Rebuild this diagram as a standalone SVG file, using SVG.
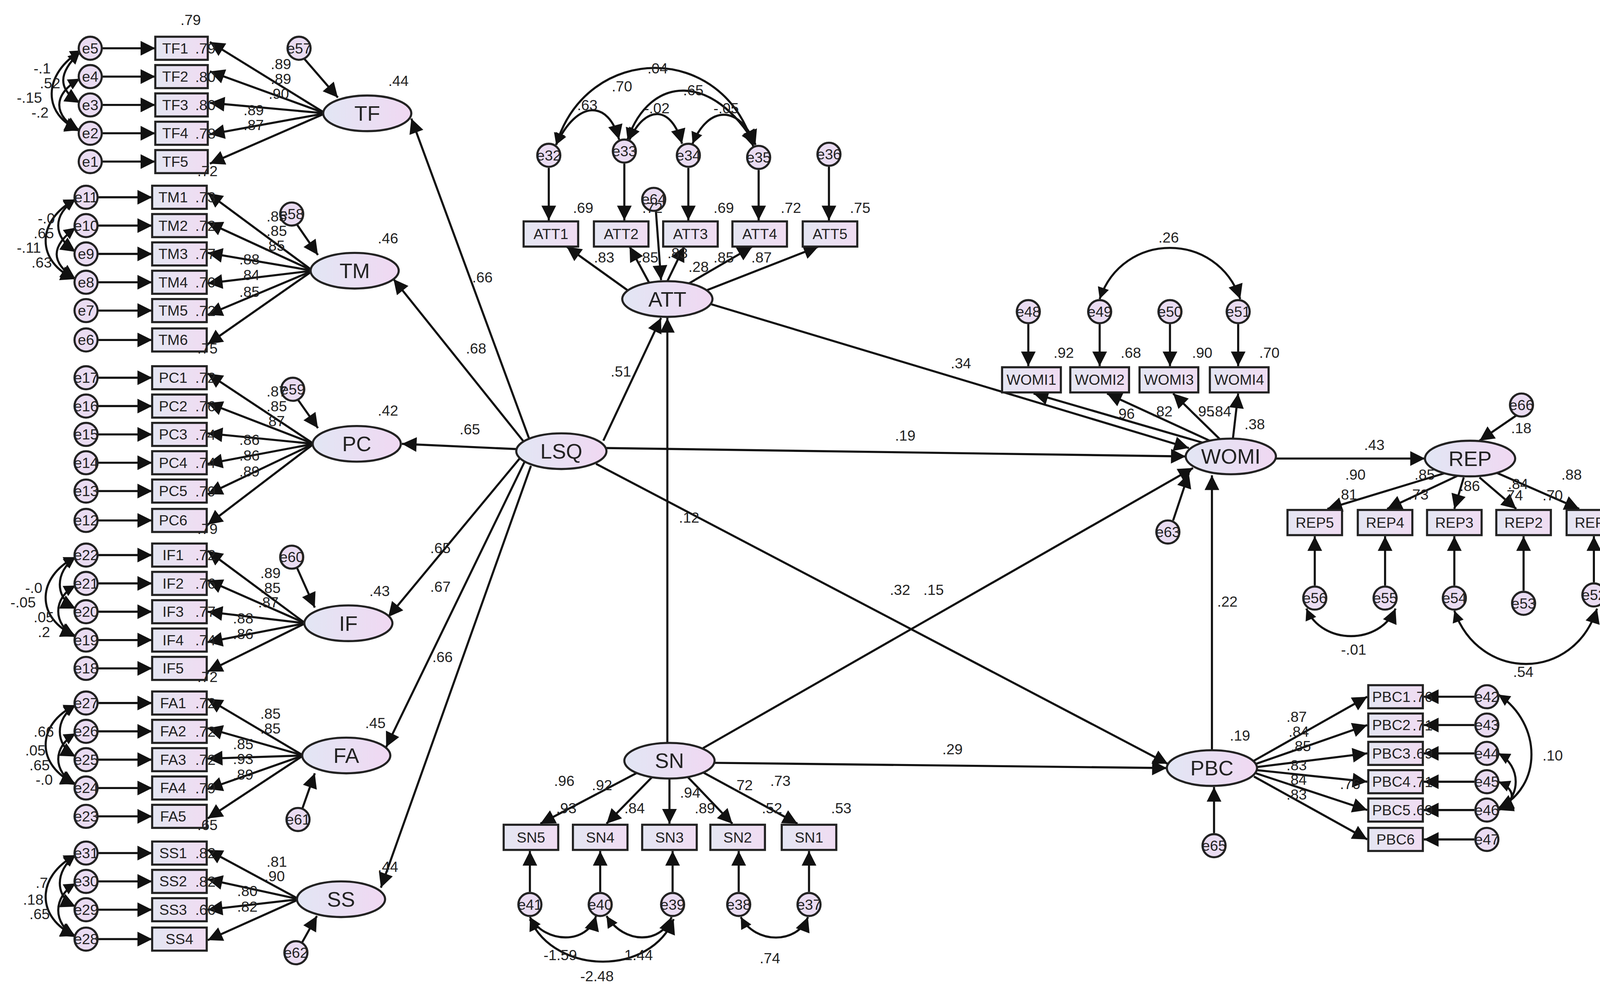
<svg xmlns="http://www.w3.org/2000/svg" width="4212" height="2537" viewBox="0 0 4212 2537">
<style>
text{font-family:"Liberation Sans",Arial,sans-serif;font-size:14px;fill:#222}
.n{text-anchor:middle;dominant-baseline:central}
.big{font-size:20px}
.box{fill:url(#gb);stroke:#222;stroke-width:2}
.ell{fill:url(#ge);stroke:#222;stroke-width:2}
.err{fill:#eadcf2;stroke:#222;stroke-width:2}
.c line,.c path{stroke:#111;stroke-width:2;fill:none;marker-end:url(#a)}
.c path.d{marker-start:url(#as)}
</style>
<defs>
<linearGradient id="gb" x1="0" x2="1"><stop offset="0" stop-color="#e4e6f2"/><stop offset="1" stop-color="#f0dcf2"/></linearGradient>
<linearGradient id="ge" x1="0" x2="1"><stop offset="0" stop-color="#e2e6f4"/><stop offset="1" stop-color="#f0d8f2"/></linearGradient>
<marker id="a" viewBox="0 0 10 10" refX="10" refY="5" markerWidth="18" markerHeight="14" markerUnits="userSpaceOnUse" orient="auto"><path d="M0,0L10,5L0,10z" fill="#111"/></marker>
<marker id="as" viewBox="0 0 10 10" refX="0" refY="5" markerWidth="14" markerHeight="11" markerUnits="userSpaceOnUse" orient="auto"><path d="M10,0L0,5L10,10z" fill="#111"/></marker>
</defs>
<rect width="4212" height="2537" fill="#fff"/>
<g transform="scale(2.6862)">
<g id="connectors" class="c">
<!-- left error -> item -->
<line x1="97" y1="46" x2="148" y2="46"/><line x1="97" y1="73" x2="148" y2="73"/><line x1="97" y1="100" x2="148" y2="100"/><line x1="97" y1="127" x2="148" y2="127"/><line x1="97" y1="154" x2="148" y2="154"/>
<line x1="93" y1="188" x2="145" y2="188"/><line x1="93" y1="215" x2="145" y2="215"/><line x1="93" y1="242" x2="145" y2="242"/><line x1="93" y1="269" x2="145" y2="269"/><line x1="93" y1="296" x2="145" y2="296"/><line x1="93" y1="324" x2="145" y2="324"/>
<line x1="93" y1="360" x2="145" y2="360"/><line x1="93" y1="387" x2="145" y2="387"/><line x1="93" y1="414" x2="145" y2="414"/><line x1="93" y1="441" x2="145" y2="441"/><line x1="93" y1="468" x2="145" y2="468"/><line x1="93" y1="496" x2="145" y2="496"/>
<line x1="93" y1="529" x2="145" y2="529"/><line x1="93" y1="556" x2="145" y2="556"/><line x1="93" y1="583" x2="145" y2="583"/><line x1="93" y1="610" x2="145" y2="610"/><line x1="93" y1="637" x2="145" y2="637"/>
<line x1="93" y1="670" x2="145" y2="670"/><line x1="93" y1="697" x2="145" y2="697"/><line x1="93" y1="724" x2="145" y2="724"/><line x1="93" y1="751" x2="145" y2="751"/><line x1="93" y1="778" x2="145" y2="778"/>
<line x1="93" y1="813" x2="145" y2="813"/><line x1="93" y1="840" x2="145" y2="840"/><line x1="93" y1="867" x2="145" y2="867"/><line x1="93" y1="895" x2="145" y2="895"/>
<!-- left covariance arcs -->
<path class="d" d="M78,48 C40,70 40,110 76,124"/><path class="d" d="M76,75 C50,90 50,110 76,125"/><path class="d" d="M76,50 C55,70 55,85 76,98"/>
<path class="d" d="M72,190 C34,210 34,250 72,266"/><path class="d" d="M72,217 C48,235 48,250 72,266"/><path class="d" d="M72,190 C50,205 50,225 72,240"/>
<path class="d" d="M72,531 C34,550 34,590 72,606"/><path class="d" d="M72,558 C50,570 50,595 72,607"/><path class="d" d="M72,531 C52,545 52,570 72,580"/>
<path class="d" d="M72,672 C34,690 34,730 72,747"/><path class="d" d="M72,699 C50,712 50,735 72,748"/><path class="d" d="M72,672 C52,685 52,710 72,721"/>
<path class="d" d="M72,815 C34,835 34,875 72,892"/><path class="d" d="M72,842 C50,855 50,880 72,893"/><path class="d" d="M72,815 C52,830 52,855 72,864"/>
<!-- loadings -->
<line x1="310" y1="108" x2="200" y2="40"/><line x1="310" y1="108" x2="200" y2="68"/><line x1="310" y1="108" x2="200" y2="98"/><line x1="310" y1="108" x2="200" y2="128"/><line x1="310" y1="108" x2="200" y2="156"/>
<line x1="298" y1="258" x2="198" y2="184"/><line x1="298" y1="258" x2="198" y2="212"/><line x1="298" y1="258" x2="198" y2="241"/><line x1="298" y1="258" x2="198" y2="270"/><line x1="298" y1="258" x2="198" y2="300"/><line x1="298" y1="258" x2="198" y2="328"/>
<line x1="299" y1="423" x2="198" y2="356"/><line x1="299" y1="423" x2="198" y2="384"/><line x1="299" y1="423" x2="198" y2="413"/><line x1="299" y1="423" x2="198" y2="442"/><line x1="299" y1="423" x2="198" y2="471"/><line x1="299" y1="423" x2="198" y2="500"/>
<line x1="291" y1="594" x2="198" y2="525"/><line x1="291" y1="594" x2="198" y2="553"/><line x1="291" y1="594" x2="198" y2="583"/><line x1="291" y1="594" x2="198" y2="612"/><line x1="291" y1="594" x2="198" y2="640"/>
<line x1="289" y1="720" x2="198" y2="666"/><line x1="289" y1="720" x2="198" y2="694"/><line x1="289" y1="720" x2="198" y2="723"/><line x1="289" y1="720" x2="198" y2="752"/><line x1="289" y1="720" x2="198" y2="780"/>
<line x1="285" y1="857" x2="198" y2="810"/><line x1="285" y1="857" x2="198" y2="838"/><line x1="285" y1="857" x2="198" y2="867"/><line x1="285" y1="857" x2="198" y2="896"/>
<!-- disturbances -->
<line x1="290" y1="56" x2="322" y2="93"/><line x1="283" y1="214" x2="303" y2="243"/><line x1="284" y1="381" x2="303" y2="408"/><line x1="283" y1="541" x2="300" y2="579"/><line x1="288" y1="771" x2="300" y2="737"/><line x1="288" y1="898" x2="302" y2="873"/>
<!-- structural -->
<line x1="505" y1="420" x2="392" y2="113"/><line x1="500" y1="422" x2="375" y2="266"/><line x1="493" y1="428" x2="383" y2="423"/><line x1="496" y1="436" x2="370" y2="588"/><line x1="500" y1="440" x2="368" y2="712"/><line x1="506" y1="444" x2="363" y2="846"/>
<line x1="575" y1="420" x2="630" y2="303"/><line x1="578" y1="427" x2="1130" y2="435"/><line x1="568" y1="442" x2="1113" y2="728"/>
<line x1="678" y1="290" x2="1133" y2="427"/><line x1="636" y1="708" x2="636" y2="303"/><line x1="670" y1="713" x2="1137" y2="446"/><line x1="681" y1="727" x2="1112" y2="732"/><line x1="1155" y1="715" x2="1155" y2="453"/><line x1="1216" y1="437" x2="1358" y2="437"/>
<!-- ATT -->
<line x1="600" y1="278" x2="540" y2="235"/><line x1="620" y1="272" x2="600" y2="235"/><line x1="636" y1="268" x2="652" y2="235"/><line x1="655" y1="271" x2="717" y2="235"/><line x1="670" y1="278" x2="780" y2="235"/>
<line x1="523" y1="160" x2="523" y2="210"/><line x1="595" y1="156" x2="595" y2="210"/><line x1="656" y1="160" x2="656" y2="210"/><line x1="723" y1="162" x2="723" y2="210"/><line x1="790" y1="159" x2="790" y2="210"/><line x1="625" y1="200" x2="630" y2="267"/>
<path class="d" d="M530,138 C560,40 690,40 718,140"/><path class="d" d="M530,138 C550,95 580,95 590,133"/><path class="d" d="M600,133 C615,100 640,100 650,137"/><path class="d" d="M660,137 C675,100 705,100 720,138"/><path class="d" d="M598,133 C620,70 680,70 720,138"/>
<!-- WOMI -->
<line x1="1150" y1="423" x2="985" y2="375"/><line x1="1155" y1="421" x2="1055" y2="375"/><line x1="1163" y1="419" x2="1118" y2="375"/><line x1="1175" y1="418" x2="1180" y2="375"/>
<line x1="980" y1="309" x2="980" y2="349"/><line x1="1048" y1="309" x2="1048" y2="349"/><line x1="1115" y1="309" x2="1115" y2="349"/><line x1="1180" y1="309" x2="1180" y2="349"/><line x1="1118" y1="496" x2="1133" y2="451"/>
<path class="d" d="M1048,285 C1070,220 1160,220 1182,285"/>
<!-- REP -->
<line x1="1380" y1="450" x2="1265" y2="485"/><line x1="1390" y1="453" x2="1322" y2="485"/><line x1="1395" y1="455" x2="1386" y2="485"/><line x1="1410" y1="455" x2="1445" y2="485"/><line x1="1425" y1="450" x2="1505" y2="485"/>
<line x1="1445" y1="396" x2="1410" y2="420"/>
<line x1="1253" y1="558" x2="1253" y2="511"/><line x1="1320" y1="558" x2="1320" y2="511"/><line x1="1386" y1="558" x2="1386" y2="511"/><line x1="1452" y1="563" x2="1452" y2="511"/><line x1="1519" y1="555" x2="1519" y2="511"/>
<path class="d" d="M1245,580 C1260,615 1315,615 1330,580"/><path class="d" d="M1386,582 C1410,650 1500,650 1522,580"/>
<!-- SN -->
<line x1="610" y1="735" x2="515" y2="785"/><line x1="622" y1="740" x2="578" y2="785"/><line x1="638" y1="742" x2="638" y2="785"/><line x1="655" y1="740" x2="698" y2="785"/><line x1="668" y1="735" x2="760" y2="785"/>
<line x1="505" y1="850" x2="505" y2="811"/><line x1="572" y1="850" x2="572" y2="811"/><line x1="641" y1="850" x2="641" y2="811"/><line x1="704" y1="850" x2="704" y2="811"/><line x1="771" y1="850" x2="771" y2="811"/>
<path class="d" d="M505,874 C520,900 560,900 568,873"/><path class="d" d="M578,873 C595,900 630,900 640,874"/><path class="d" d="M505,876 C530,930 620,930 642,876"/><path class="d" d="M706,874 C720,900 760,900 770,874"/>
<!-- PBC -->
<line x1="1195" y1="725" x2="1303" y2="664"/><line x1="1197" y1="728" x2="1303" y2="691"/><line x1="1198" y1="731" x2="1303" y2="718"/><line x1="1198" y1="734" x2="1303" y2="745"/><line x1="1197" y1="737" x2="1303" y2="772"/><line x1="1195" y1="740" x2="1303" y2="800"/>
<line x1="1405" y1="664" x2="1357" y2="664"/><line x1="1405" y1="691" x2="1357" y2="691"/><line x1="1405" y1="718" x2="1357" y2="718"/><line x1="1405" y1="745" x2="1357" y2="745"/><line x1="1405" y1="772" x2="1357" y2="772"/><line x1="1405" y1="800" x2="1357" y2="800"/>
<line x1="1157" y1="794" x2="1157" y2="750"/>
<path class="d" d="M1428,662 C1470,690 1470,750 1428,770"/><path class="d" d="M1428,718 C1450,730 1450,760 1428,772"/><path class="d" d="M1428,745 C1445,752 1445,765 1428,772"/>
</g>
<g id="nodes">
<g id="TF"><ellipse class="ell" cx="350" cy="108" rx="42" ry="17"/><text class="n big" x="350" y="108">TF</text></g>
<g id="TM"><ellipse class="ell" cx="338" cy="258" rx="42" ry="17"/><text class="n big" x="338" y="258">TM</text></g>
<g id="PC"><ellipse class="ell" cx="340" cy="423" rx="42" ry="17"/><text class="n big" x="340" y="423">PC</text></g>
<g id="IF"><ellipse class="ell" cx="332" cy="594" rx="42" ry="17"/><text class="n big" x="332" y="594">IF</text></g>
<g id="FA"><ellipse class="ell" cx="330" cy="720" rx="42" ry="17"/><text class="n big" x="330" y="720">FA</text></g>
<g id="SS"><ellipse class="ell" cx="325" cy="857" rx="42" ry="17"/><text class="n big" x="325" y="857">SS</text></g>
<g id="LSQ"><ellipse class="ell" cx="535" cy="430" rx="43" ry="17"/><text class="n big" x="535" y="430">LSQ</text></g>
<g id="ATT"><ellipse class="ell" cx="636" cy="285" rx="43" ry="17"/><text class="n big" x="636" y="285">ATT</text></g>
<g id="WOMI"><ellipse class="ell" cx="1173" cy="435" rx="43" ry="17"/><text class="n big" x="1173" y="435">WOMI</text></g>
<g id="REP"><ellipse class="ell" cx="1401" cy="437" rx="43" ry="17"/><text class="n big" x="1401" y="437">REP</text></g>
<g id="SN"><ellipse class="ell" cx="638" cy="725" rx="43" ry="17"/><text class="n big" x="638" y="725">SN</text></g>
<g id="PBC"><ellipse class="ell" cx="1155" cy="732" rx="43" ry="17"/><text class="n big" x="1155" y="732">PBC</text></g>
<!-- item boxes -->
<g id="TF1"><rect class="box" x="148" y="35" width="50" height="22"/><text class="n" x="167" y="46">TF1</text></g>
<g id="TF2"><rect class="box" x="148" y="62" width="50" height="22"/><text class="n" x="167" y="73">TF2</text></g>
<g id="TF3"><rect class="box" x="148" y="89" width="50" height="22"/><text class="n" x="167" y="100">TF3</text></g>
<g id="TF4"><rect class="box" x="148" y="116" width="50" height="22"/><text class="n" x="167" y="127">TF4</text></g>
<g id="TF5"><rect class="box" x="148" y="143" width="50" height="22"/><text class="n" x="167" y="154">TF5</text></g>
<g id="TM1"><rect class="box" x="145" y="177" width="52" height="22"/><text class="n" x="165" y="188">TM1</text></g>
<g id="TM2"><rect class="box" x="145" y="204" width="52" height="22"/><text class="n" x="165" y="215">TM2</text></g>
<g id="TM3"><rect class="box" x="145" y="231" width="52" height="22"/><text class="n" x="165" y="242">TM3</text></g>
<g id="TM4"><rect class="box" x="145" y="258" width="52" height="22"/><text class="n" x="165" y="269">TM4</text></g>
<g id="TM5"><rect class="box" x="145" y="285" width="52" height="22"/><text class="n" x="165" y="296">TM5</text></g>
<g id="TM6"><rect class="box" x="145" y="313" width="52" height="22"/><text class="n" x="165" y="324">TM6</text></g>
<g id="PC1"><rect class="box" x="145" y="349" width="52" height="22"/><text class="n" x="165" y="360">PC1</text></g>
<g id="PC2"><rect class="box" x="145" y="376" width="52" height="22"/><text class="n" x="165" y="387">PC2</text></g>
<g id="PC3"><rect class="box" x="145" y="403" width="52" height="22"/><text class="n" x="165" y="414">PC3</text></g>
<g id="PC4"><rect class="box" x="145" y="430" width="52" height="22"/><text class="n" x="165" y="441">PC4</text></g>
<g id="PC5"><rect class="box" x="145" y="457" width="52" height="22"/><text class="n" x="165" y="468">PC5</text></g>
<g id="PC6"><rect class="box" x="145" y="485" width="52" height="22"/><text class="n" x="165" y="496">PC6</text></g>
<g id="IF1"><rect class="box" x="145" y="518" width="52" height="22"/><text class="n" x="165" y="529">IF1</text></g>
<g id="IF2"><rect class="box" x="145" y="545" width="52" height="22"/><text class="n" x="165" y="556">IF2</text></g>
<g id="IF3"><rect class="box" x="145" y="572" width="52" height="22"/><text class="n" x="165" y="583">IF3</text></g>
<g id="IF4"><rect class="box" x="145" y="599" width="52" height="22"/><text class="n" x="165" y="610">IF4</text></g>
<g id="IF5"><rect class="box" x="145" y="626" width="52" height="22"/><text class="n" x="165" y="637">IF5</text></g>
<g id="FA1"><rect class="box" x="145" y="659" width="52" height="22"/><text class="n" x="165" y="670">FA1</text></g>
<g id="FA2"><rect class="box" x="145" y="686" width="52" height="22"/><text class="n" x="165" y="697">FA2</text></g>
<g id="FA3"><rect class="box" x="145" y="713" width="52" height="22"/><text class="n" x="165" y="724">FA3</text></g>
<g id="FA4"><rect class="box" x="145" y="740" width="52" height="22"/><text class="n" x="165" y="751">FA4</text></g>
<g id="FA5"><rect class="box" x="145" y="767" width="52" height="22"/><text class="n" x="165" y="778">FA5</text></g>
<g id="SS1"><rect class="box" x="145" y="802" width="52" height="22"/><text class="n" x="165" y="813">SS1</text></g>
<g id="SS2"><rect class="box" x="145" y="829" width="52" height="22"/><text class="n" x="165" y="840">SS2</text></g>
<g id="SS3"><rect class="box" x="145" y="856" width="52" height="22"/><text class="n" x="165" y="867">SS3</text></g>
<g id="SS4"><rect class="box" x="145" y="884" width="52" height="22"/><text class="n" x="171" y="895">SS4</text></g>
<g id="ATT1"><rect class="box" x="499" y="211" width="52" height="24"/><text class="n" x="525" y="223">ATT1</text></g>
<g id="ATT2"><rect class="box" x="566" y="211" width="52" height="24"/><text class="n" x="592" y="223">ATT2</text></g>
<g id="ATT3"><rect class="box" x="632" y="211" width="52" height="24"/><text class="n" x="658" y="223">ATT3</text></g>
<g id="ATT4"><rect class="box" x="698" y="211" width="52" height="24"/><text class="n" x="724" y="223">ATT4</text></g>
<g id="ATT5"><rect class="box" x="765" y="211" width="52" height="24"/><text class="n" x="791" y="223">ATT5</text></g>
<g id="WOMI1"><rect class="box" x="955" y="350" width="56" height="24"/><text class="n" x="983" y="362" font-size="12">WOMI1</text></g>
<g id="WOMI2"><rect class="box" x="1020" y="350" width="56" height="24"/><text class="n" x="1048" y="362" font-size="12">WOMI2</text></g>
<g id="WOMI3"><rect class="box" x="1086" y="350" width="56" height="24"/><text class="n" x="1114" y="362" font-size="12">WOMI3</text></g>
<g id="WOMI4"><rect class="box" x="1153" y="350" width="56" height="24"/><text class="n" x="1181" y="362" font-size="12">WOMI4</text></g>
<g id="REP5"><rect class="box" x="1227" y="486" width="52" height="24"/><text class="n" x="1253" y="498">REP5</text></g>
<g id="REP4"><rect class="box" x="1294" y="486" width="52" height="24"/><text class="n" x="1320" y="498">REP4</text></g>
<g id="REP3"><rect class="box" x="1360" y="486" width="52" height="24"/><text class="n" x="1386" y="498">REP3</text></g>
<g id="REP2"><rect class="box" x="1426" y="486" width="52" height="24"/><text class="n" x="1452" y="498">REP2</text></g>
<g id="REP1"><rect class="box" x="1493" y="486" width="52" height="24"/><text class="n" x="1519" y="498">REP1</text></g>
<g id="SN5"><rect class="box" x="480" y="786" width="52" height="24"/><text class="n" x="506" y="798">SN5</text></g>
<g id="SN4"><rect class="box" x="546" y="786" width="52" height="24"/><text class="n" x="572" y="798">SN4</text></g>
<g id="SN3"><rect class="box" x="612" y="786" width="52" height="24"/><text class="n" x="638" y="798">SN3</text></g>
<g id="SN2"><rect class="box" x="677" y="786" width="52" height="24"/><text class="n" x="703" y="798">SN2</text></g>
<g id="SN1"><rect class="box" x="745" y="786" width="52" height="24"/><text class="n" x="771" y="798">SN1</text></g>
<g id="PBC1"><rect class="box" x="1304" y="653" width="52" height="22"/><text class="n" x="1326" y="664">PBC1</text></g>
<g id="PBC2"><rect class="box" x="1304" y="680" width="52" height="22"/><text class="n" x="1326" y="691">PBC2</text></g>
<g id="PBC3"><rect class="box" x="1304" y="707" width="52" height="22"/><text class="n" x="1326" y="718">PBC3</text></g>
<g id="PBC4"><rect class="box" x="1304" y="734" width="52" height="22"/><text class="n" x="1326" y="745">PBC4</text></g>
<g id="PBC5"><rect class="box" x="1304" y="761" width="52" height="22"/><text class="n" x="1326" y="772">PBC5</text></g>
<g id="PBC6"><rect class="box" x="1304" y="789" width="52" height="22"/><text class="n" x="1330" y="800">PBC6</text></g>
<!-- errors -->
<g id="errors">
<circle class="err" cx="86" cy="46" r="11"/><text class="n" x="86" y="46">e5</text>
<circle class="err" cx="86" cy="73" r="11"/><text class="n" x="86" y="73">e4</text>
<circle class="err" cx="86" cy="100" r="11"/><text class="n" x="86" y="100">e3</text>
<circle class="err" cx="86" cy="127" r="11"/><text class="n" x="86" y="127">e2</text>
<circle class="err" cx="86" cy="154" r="11"/><text class="n" x="86" y="154">e1</text>
<circle class="err" cx="82" cy="188" r="11"/><text class="n" x="82" y="188">e11</text>
<circle class="err" cx="82" cy="215" r="11"/><text class="n" x="82" y="215">e10</text>
<circle class="err" cx="82" cy="242" r="11"/><text class="n" x="82" y="242">e9</text>
<circle class="err" cx="82" cy="269" r="11"/><text class="n" x="82" y="269">e8</text>
<circle class="err" cx="82" cy="296" r="11"/><text class="n" x="82" y="296">e7</text>
<circle class="err" cx="82" cy="324" r="11"/><text class="n" x="82" y="324">e6</text>
<circle class="err" cx="82" cy="360" r="11"/><text class="n" x="82" y="360">e17</text>
<circle class="err" cx="82" cy="387" r="11"/><text class="n" x="82" y="387">e16</text>
<circle class="err" cx="82" cy="414" r="11"/><text class="n" x="82" y="414">e15</text>
<circle class="err" cx="82" cy="441" r="11"/><text class="n" x="82" y="441">e14</text>
<circle class="err" cx="82" cy="468" r="11"/><text class="n" x="82" y="468">e13</text>
<circle class="err" cx="82" cy="496" r="11"/><text class="n" x="82" y="496">e12</text>
<circle class="err" cx="82" cy="529" r="11"/><text class="n" x="82" y="529">e22</text>
<circle class="err" cx="82" cy="556" r="11"/><text class="n" x="82" y="556">e21</text>
<circle class="err" cx="82" cy="583" r="11"/><text class="n" x="82" y="583">e20</text>
<circle class="err" cx="82" cy="610" r="11"/><text class="n" x="82" y="610">e19</text>
<circle class="err" cx="82" cy="637" r="11"/><text class="n" x="82" y="637">e18</text>
<circle class="err" cx="82" cy="670" r="11"/><text class="n" x="82" y="670">e27</text>
<circle class="err" cx="82" cy="697" r="11"/><text class="n" x="82" y="697">e26</text>
<circle class="err" cx="82" cy="724" r="11"/><text class="n" x="82" y="724">e25</text>
<circle class="err" cx="82" cy="751" r="11"/><text class="n" x="82" y="751">e24</text>
<circle class="err" cx="82" cy="778" r="11"/><text class="n" x="82" y="778">e23</text>
<circle class="err" cx="82" cy="813" r="11"/><text class="n" x="82" y="813">e31</text>
<circle class="err" cx="82" cy="840" r="11"/><text class="n" x="82" y="840">e30</text>
<circle class="err" cx="82" cy="867" r="11"/><text class="n" x="82" y="867">e29</text>
<circle class="err" cx="82" cy="895" r="11"/><text class="n" x="82" y="895">e28</text>
<circle class="err" cx="285" cy="46" r="11"/><text class="n" x="285" y="46">e57</text>
<circle class="err" cx="278" cy="204" r="11"/><text class="n" x="278" y="204">e58</text>
<circle class="err" cx="279" cy="371" r="11"/><text class="n" x="279" y="371">e59</text>
<circle class="err" cx="278" cy="531" r="11"/><text class="n" x="278" y="531">e60</text>
<circle class="err" cx="284" cy="781" r="11"/><text class="n" x="284" y="781">e61</text>
<circle class="err" cx="282" cy="908" r="11"/><text class="n" x="282" y="908">e62</text>
<circle class="err" cx="523" cy="148" r="11"/><text class="n" x="523" y="148">e32</text>
<circle class="err" cx="595" cy="144" r="11"/><text class="n" x="595" y="144">e33</text>
<circle class="err" cx="656" cy="148" r="11"/><text class="n" x="656" y="148">e34</text>
<circle class="err" cx="723" cy="150" r="11"/><text class="n" x="723" y="150">e35</text>
<circle class="err" cx="790" cy="147" r="11"/><text class="n" x="790" y="147">e36</text>
<circle class="err" cx="623" cy="190" r="11"/><text class="n" x="623" y="190">e64</text>
<circle class="err" cx="980" cy="297" r="11"/><text class="n" x="980" y="297">e48</text>
<circle class="err" cx="1048" cy="297" r="11"/><text class="n" x="1048" y="297">e49</text>
<circle class="err" cx="1115" cy="297" r="11"/><text class="n" x="1115" y="297">e50</text>
<circle class="err" cx="1180" cy="297" r="11"/><text class="n" x="1180" y="297">e51</text>
<circle class="err" cx="1113" cy="507" r="11"/><text class="n" x="1113" y="507">e63</text>
<circle class="err" cx="1450" cy="386" r="11"/><text class="n" x="1450" y="386">e66</text>
<circle class="err" cx="1253" cy="570" r="11"/><text class="n" x="1253" y="570">e56</text>
<circle class="err" cx="1320" cy="570" r="11"/><text class="n" x="1320" y="570">e55</text>
<circle class="err" cx="1386" cy="570" r="11"/><text class="n" x="1386" y="570">e54</text>
<circle class="err" cx="1452" cy="575" r="11"/><text class="n" x="1452" y="575">e53</text>
<circle class="err" cx="1519" cy="567" r="11"/><text class="n" x="1519" y="567">e52</text>
<circle class="err" cx="505" cy="862" r="11"/><text class="n" x="505" y="862">e41</text>
<circle class="err" cx="572" cy="862" r="11"/><text class="n" x="572" y="862">e40</text>
<circle class="err" cx="641" cy="862" r="11"/><text class="n" x="641" y="862">e39</text>
<circle class="err" cx="704" cy="862" r="11"/><text class="n" x="704" y="862">e38</text>
<circle class="err" cx="771" cy="862" r="11"/><text class="n" x="771" y="862">e37</text>
<circle class="err" cx="1417" cy="664" r="11"/><text class="n" x="1417" y="664">e42</text>
<circle class="err" cx="1417" cy="691" r="11"/><text class="n" x="1417" y="691">e43</text>
<circle class="err" cx="1417" cy="718" r="11"/><text class="n" x="1417" y="718">e44</text>
<circle class="err" cx="1417" cy="745" r="11"/><text class="n" x="1417" y="745">e45</text>
<circle class="err" cx="1417" cy="772" r="11"/><text class="n" x="1417" y="772">e46</text>
<circle class="err" cx="1417" cy="800" r="11"/><text class="n" x="1417" y="800">e47</text>
<circle class="err" cx="1157" cy="806" r="11"/><text class="n" x="1157" y="806">e65</text>
</g>
</g>
<g id="labels">
<!-- R2 on left items -->
<text x="172" y="24">.79</text><text x="186" y="51">.79</text><text x="186" y="78">.80</text><text x="186" y="105">.80</text><text x="186" y="132">.78</text><text x="188" y="168">.72</text>
<text x="186" y="193">.73</text><text x="186" y="220">.72</text><text x="186" y="247">.77</text><text x="186" y="274">.70</text><text x="186" y="301">.72</text><text x="188" y="337">.75</text>
<text x="186" y="365">.72</text><text x="186" y="392">.76</text><text x="186" y="419">.74</text><text x="186" y="446">.74</text><text x="186" y="473">.79</text><text x="188" y="509">.79</text>
<text x="186" y="534">.72</text><text x="186" y="561">.76</text><text x="186" y="588">.77</text><text x="186" y="615">.74</text><text x="188" y="650">.72</text>
<text x="186" y="675">.72</text><text x="186" y="702">.72</text><text x="186" y="729">.72</text><text x="186" y="756">.79</text><text x="188" y="791">.65</text>
<text x="186" y="818">.82</text><text x="186" y="845">.82</text><text x="186" y="872">.66</text>
<!-- loadings left -->
<text x="258" y="66">.89</text><text x="258" y="80">.89</text><text x="256" y="94">.90</text><text x="232" y="110">.89</text><text x="232" y="124">.87</text>
<text x="254" y="211">.85</text><text x="254" y="225">.85</text><text x="252" y="239">.85</text><text x="228" y="252">.88</text><text x="228" y="267">.84</text><text x="228" y="283">.85</text>
<text x="254" y="378">.87</text><text x="254" y="392">.85</text><text x="252" y="406">.87</text><text x="228" y="424">.86</text><text x="228" y="439">.86</text><text x="228" y="454">.89</text>
<text x="248" y="551">.89</text><text x="248" y="565">.85</text><text x="246" y="579">.87</text><text x="222" y="594">.88</text><text x="222" y="609">.86</text>
<text x="248" y="685">.85</text><text x="248" y="699">.85</text><text x="222" y="714">.85</text><text x="222" y="728">.93</text><text x="222" y="743">.89</text>
<text x="254" y="826">.81</text><text x="252" y="840">.90</text><text x="226" y="854">.80</text><text x="226" y="869">.82</text>
<!-- left cov labels -->
<text x="32" y="70" font-size="13">-.1</text><text x="38" y="84" font-size="13">.52</text><text x="16" y="98" font-size="13">-.15</text><text x="30" y="112" font-size="13">-.2</text>
<text x="36" y="213" font-size="13">-.0</text><text x="32" y="227" font-size="13">.65</text><text x="16" y="241" font-size="13">-.11</text><text x="30" y="255" font-size="13">.63</text>
<text x="24" y="565" font-size="13">-.0</text><text x="10" y="579" font-size="13">-.05</text><text x="32" y="593" font-size="13">.05</text><text x="36" y="607" font-size="13">.2</text>
<text x="32" y="702" font-size="13">.66</text><text x="24" y="720" font-size="13">.05</text><text x="28" y="734" font-size="13">.65</text><text x="34" y="748" font-size="13">-.0</text>
<text x="34" y="846" font-size="13">.7</text><text x="22" y="862" font-size="13">.18</text><text x="28" y="876" font-size="13">.65</text>
<!-- latent R2 -->
<text x="370" y="82">.44</text><text x="360" y="232">.46</text><text x="360" y="396">.42</text><text x="352" y="568">.43</text><text x="348" y="694">.45</text><text x="360" y="831">.44</text>
<text x="1186" y="409">.38</text><text x="1440" y="413">.18</text><text x="1172" y="706">.19</text>
<!-- structural -->
<text x="450" y="269">.66</text><text x="444" y="337">.68</text><text x="438" y="414">.65</text><text x="410" y="527">.65</text><text x="410" y="564">.67</text><text x="412" y="631">.66</text>
<text x="582" y="359">.51</text><text x="853" y="420">.19</text><text x="848" y="567">.32</text><text x="906" y="351">.34</text><text x="647" y="498">.12</text><text x="880" y="567">.15</text><text x="898" y="719">.29</text><text x="1160" y="578">.22</text><text x="1300" y="429">.43</text>
<!-- ATT -->
<text x="617" y="70">.04</text><text x="583" y="87">.70</text><text x="651" y="91">.65</text><text x="550" y="105">.63</text><text x="614" y="108">-.02</text><text x="680" y="108">-.05</text>
<text x="546" y="203">.69</text><text x="612" y="203">.72</text><text x="680" y="203">.69</text><text x="744" y="203">.72</text><text x="810" y="203">.75</text>
<text x="566" y="250">.83</text><text x="608" y="250">.85</text><text x="636" y="246">.83</text><text x="656" y="259">.28</text><text x="680" y="250">.85</text><text x="716" y="250">.87</text>
<!-- WOMI -->
<text x="1104" y="231">.26</text>
<text x="1004" y="341">.92</text><text x="1068" y="341">.68</text><text x="1136" y="341">.90</text><text x="1200" y="341">.70</text>
<text x="1062" y="399">.96</text><text x="1098" y="397">.82</text><text x="1138" y="397">.95</text><text x="1154" y="397">.84</text>
<!-- REP -->
<text x="1282" y="457">.90</text><text x="1348" y="457">.85</text><text x="1391" y="468">.86</text><text x="1437" y="466">.84</text><text x="1488" y="457">.88</text>
<text x="1274" y="476">.81</text><text x="1342" y="476">.73</text><text x="1432" y="477">.74</text><text x="1470" y="477">.70</text><text x="1534" y="475">.77</text>
<text x="1278" y="624">-.01</text><text x="1442" y="645">.54</text>
<!-- SN -->
<text x="528" y="749">.96</text><text x="530" y="775">.93</text><text x="564" y="753">.92</text><text x="595" y="775">.84</text><text x="648" y="760">.94</text><text x="662" y="775">.89</text><text x="698" y="753">.72</text><text x="726" y="775">.52</text><text x="734" y="749">.73</text><text x="792" y="775">.53</text>
<text x="518" y="915">-1.59</text><text x="595" y="915">1.44</text><text x="553" y="935">-2.48</text><text x="724" y="918">.74</text>
<!-- PBC -->
<text x="1277" y="752">.76</text>
<text x="1226" y="688">.87</text><text x="1228" y="702">.84</text><text x="1230" y="716">.85</text><text x="1226" y="734">.83</text><text x="1226" y="748">.84</text><text x="1226" y="762">.83</text>
<text x="1346" y="669">.76</text><text x="1346" y="696">.71</text><text x="1346" y="723">.69</text><text x="1346" y="750">.71</text><text x="1346" y="777">.69</text>
<text x="1470" y="725">.10</text>
</g>
</g>
</svg>
